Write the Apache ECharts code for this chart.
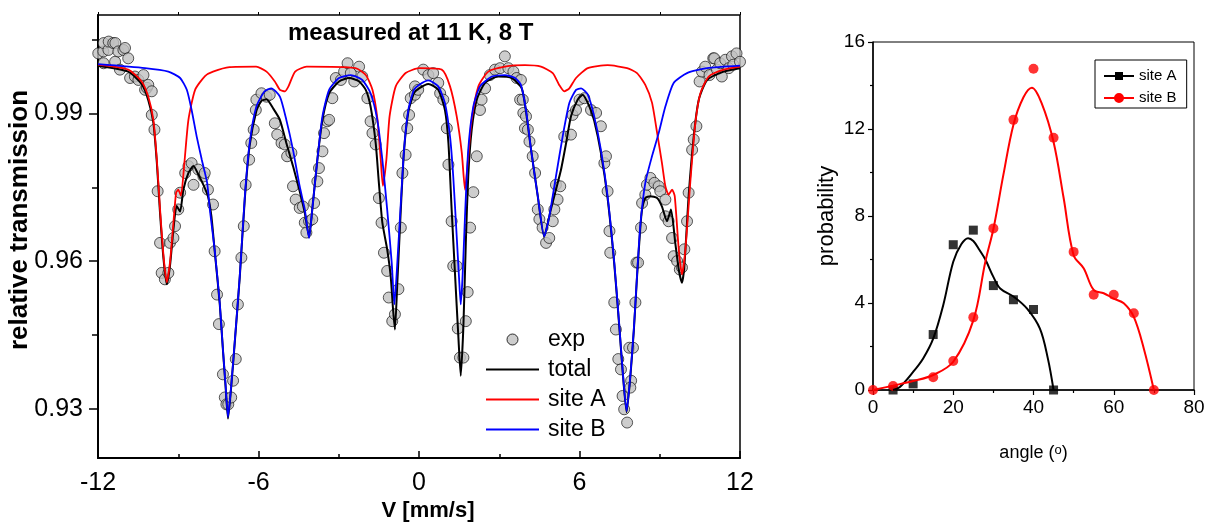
<!DOCTYPE html>
<html><head><meta charset="utf-8">
<script src="https://cdn.jsdelivr.net/npm/echarts@6/dist/echarts.min.js"></script>
<style>html,body{margin:0;padding:0;background:#fff}#c{width:1206px;height:522px}</style>
</head><body><div id="c"></div>
<script>
// ---------- Left panel: Mossbauer spectrum ----------
const expPoints = [
[-11.99,1.0022],[-11.8,1.0026],[-11.79,1.0043],[-11.79,1.0002],[-11.61,1.0029],[-11.6,1.0046],[-11.43,1.0043],[-11.36,1.0005],[-11.35,1.0043],[-11.24,1.0026],[-11.18,0.9989],[-11.05,1.0029],[-10.99,1.0033],[-10.87,1.0012],[-10.8,0.9972],[-10.62,0.9975],[-10.49,0.9968],[-10.3,0.9978],[-10.24,0.9948],[-10.17,0.9952],[-10.12,0.9958],[-9.99,0.9945],[-9.99,0.9897],[-9.89,0.9867],[-9.77,0.9742],[-9.68,0.9637],[-9.62,0.9576],[-9.5,0.9563],[-9.37,0.9576],[-9.31,0.9637],[-9.18,0.9647],[-9.12,0.9671],[-9.0,0.9705],[-8.93,0.9739],[-8.74,0.9779],[-8.62,0.9793],[-8.5,0.9799],[-8.43,0.9755],[-8.25,0.9786],[-8.06,0.9772],
[-8.01,0.9779],[-7.89,0.9745],[-7.7,0.9715],[-7.64,0.962],[-7.55,0.9532],[-7.48,0.9472],[-7.33,0.937],[-7.26,0.9323],[-7.2,0.9309],[-7.13,0.9309],[-7.02,0.9323],[-6.95,0.9357],[-6.85,0.9401],[-6.77,0.9512],[-6.64,0.9607],[-6.55,0.9671],[-6.48,0.9755],[-6.35,0.9806],[-6.27,0.984],[-6.18,0.9867],[-6.1,0.9907],[-6.08,0.9928],[-5.89,0.9941],[-5.7,0.9934],[-5.58,0.9938],[-5.39,0.988],[-5.3,0.9857],[-5.14,0.984],[-5.02,0.9837],[-4.93,0.9813],[-4.77,0.982],[-4.71,0.9752],[-4.61,0.9725],[-4.46,0.9708],[-4.34,0.9711],[-4.27,0.9678],[-4.21,0.9658],[-4.11,0.9681],
[-3.99,0.9685],[-3.92,0.9718],[-3.8,0.9762],[-3.74,0.9789],[-3.61,0.9823],[-3.55,0.986],[-3.43,0.9884],[-3.36,0.9887],[-3.24,0.9931],[-3.11,0.9972],[-2.92,0.9968],[-2.8,0.9985],[-2.67,1.0002],[-2.55,0.9982],[-2.42,0.9965],[-2.24,0.9995],[-2.12,0.9975],[-1.93,0.9931],[-1.81,0.9884],[-1.74,0.986],[-1.62,0.9837],[-1.5,0.9728],[-1.4,0.9678],[-1.31,0.9617],[-1.19,0.958],[-1.13,0.9526],[-1.0,0.9478],[-0.9,0.9492],[-0.77,0.9543],[-0.68,0.9668],[-0.62,0.9779],[-0.5,0.9816],[-0.44,0.987],[-0.37,0.9897],[-0.31,0.9931],[-0.15,0.9955],
[-0.15,0.9938],[-0.03,0.9948],[0.16,0.9989],[0.35,0.9978],[0.53,0.9982],[0.72,0.9962],[0.79,0.9941],[0.91,0.9928],[1.04,0.987],[1.1,0.9796],[1.22,0.9681],[1.28,0.959],[1.41,0.959],[1.45,0.9463],[1.53,0.9404],[1.66,0.9404],[1.75,0.9478],[1.82,0.9537],[1.91,0.9668],[2.03,0.974],[2.16,0.9813],[2.28,0.9907],[2.34,0.9928],[2.47,0.9951],[2.65,0.9978],[2.84,0.9989],[3.03,0.9992],[3.21,1.0016],[3.34,0.9992],[3.53,0.9985],[3.65,0.9972],[3.78,0.9928],[3.9,0.9901],[3.96,0.987],
[3.81,0.9968],[3.88,0.9928],[4.0,0.9894],[4.07,0.9867],[4.13,0.9843],[4.25,0.9813],[4.34,0.9779],[4.44,0.9705],[4.5,0.9685],[4.62,0.9668],[4.75,0.9637],[4.87,0.9647],[5.0,0.9681],[5.06,0.9705],[5.12,0.9755],[5.18,0.9725],[5.28,0.9752],[5.43,0.9853],[5.68,0.9857],[5.74,0.9897],[5.87,0.9907],[6.0,0.9928],[6.18,0.9931],[6.43,0.9907],[6.62,0.9901],[6.8,0.9874],[6.93,0.9799],[6.99,0.9813],[7.05,0.9742],[7.12,0.9661],[7.15,0.9617],[7.3,0.9516],[7.36,0.9461],[7.45,0.9401],[7.55,0.938],[7.61,0.9326],[7.67,0.9299],[7.78,0.9272],[7.86,0.9424],[7.93,0.9357],
[7.9,0.9343],[8.0,0.9424],[8.09,0.9516],[8.13,0.9597],[8.19,0.9597],[8.3,0.9668],[8.34,0.9718],[8.46,0.9735],[8.52,0.9755],[8.65,0.9769],[8.8,0.9759],[8.96,0.9752],[9.02,0.9742],[9.21,0.9725],[9.21,0.9691],[9.33,0.9681],[9.46,0.9647],[9.52,0.961],[9.65,0.96],[9.75,0.9583],[9.83,0.9587],[9.92,0.9624],[10.02,0.9681],[10.08,0.9739],[10.21,0.9826],[10.27,0.9847],[10.37,0.9874],[10.49,0.9965],[10.58,0.9985],[10.7,0.9995],[10.86,0.9978],[11.0,1.0012],[11.04,1.0012],[11.14,0.9989],[11.26,1.0002],[11.32,0.9975],[11.45,1.0009],[11.58,0.9992],[11.7,1.0016],[11.75,0.9999],[11.87,1.0022],[12.0,1.0005]
];
const totalCurve = [
[-12,0.9997],[-10.87,0.9985],[-10.37,0.996],[-10.12,0.9927],[-9.93,0.9881],[-9.8,0.98],[-9.68,0.9697],[-9.55,0.9604],[-9.43,0.9553],[-9.31,0.959],[-9.18,0.9665],[-9.06,0.9712],[-8.93,0.9701],[-8.81,0.9745],[-8.62,0.9779],[-8.43,0.9793],[-8.25,0.9776],[-8.06,0.9755],[-7.89,0.9732],[-7.76,0.9691],[-7.64,0.9622],[-7.45,0.9514],[-7.33,0.942],[-7.23,0.9345],[-7.14,0.928],[-7.02,0.9345],[-6.89,0.9433],[-6.7,0.9568],[-6.51,0.9728],[-6.33,0.9835],[-6.08,0.9905],[-5.9,0.9925],[-5.7,0.9929],[-5.45,0.991],[-5.2,0.9887],[-4.96,0.984],[-4.71,0.9793],[-4.46,0.9742],[-4.27,0.9698],[-4.11,0.9649],[-3.99,0.9705],[-3.8,0.9806],[-3.61,0.9887],[-3.36,0.9941],[-2.99,0.9965],[-2.61,0.9972],[-2.24,0.9965],[-1.99,0.9948],[-1.81,0.9914],[-1.62,0.984],[-1.5,0.9759],[-1.37,0.9678],[-1.19,0.9624],[-1.06,0.957],[-0.97,0.9502],[-0.9,0.9461],[-0.81,0.9556],[-0.68,0.9705],[-0.56,0.9824],[-0.4,0.9903],[-0.19,0.9941],[0,0.9951],[0.35,0.996],[0.72,0.9948],[0.97,0.9907],[1.1,0.984],[1.22,0.9705],[1.35,0.957],[1.47,0.9448],[1.56,0.9367],[1.66,0.9468],[1.75,0.9637],[1.84,0.9772],[1.97,0.9867],[2.16,0.9928],[2.47,0.9962],[2.96,0.9975],[3.47,0.9972],[3.84,0.9951],[4.0,0.9904],[4.19,0.9826],[4.44,0.9732],[4.68,0.965],[4.93,0.9705],[5.12,0.9745],[5.31,0.9786],[5.5,0.984],[5.68,0.9894],[5.93,0.9928],[6.12,0.9938],[6.37,0.9914],[6.55,0.9885],[6.8,0.982],[7.05,0.9728],[7.3,0.9594],[7.49,0.9465],[7.61,0.9378],[7.76,0.9293],[7.9,0.9365],[8.03,0.9458],[8.15,0.9568],[8.27,0.9665],[8.34,0.9705],[8.46,0.9728],[8.65,0.9732],[8.9,0.9728],[9.08,0.9711],[9.27,0.9681],[9.42,0.9705],[9.58,0.9637],[9.71,0.9583],[9.83,0.9556],[9.92,0.959],[10.08,0.9732],[10.27,0.9853],[10.46,0.9928],[10.77,0.9968],[11.39,0.9985],[12,0.9992]
];
const siteACurve = [
[-12,0.9999],[-10.87,0.9989],[-10.37,0.9965],[-10.12,0.9934],[-9.93,0.9887],[-9.8,0.9806],[-9.68,0.9705],[-9.55,0.961],[-9.43,0.9557],[-9.31,0.9597],[-9.18,0.9678],[-9.08,0.9739],[-9.0,0.9745],[-8.9,0.9733],[-8.77,0.98],[-8.62,0.9887],[-8.37,0.9948],[-8.0,0.9976],[-7.7,0.9985],[-7.08,0.9994],[-6.09,0.9995],[-5.7,0.9985],[-5.39,0.9965],[-5.2,0.9948],[-5.01,0.9945],[-4.88,0.9955],[-4.63,0.9985],[-4.2,0.9995],[-2.37,0.9992],[-1.99,0.9978],[-1.74,0.9948],[-1.55,0.9887],[-1.43,0.9806],[-1.35,0.9753],[-1.22,0.9806],[-1.1,0.9894],[-0.87,0.9955],[-0.5,0.9982],[0,0.9992],[0.85,0.9989],[1.16,0.9955],[1.41,0.9894],[1.6,0.982],[1.72,0.9745],[1.82,0.98],[1.97,0.9887],[2.22,0.9955],[2.59,0.9985],[3.21,0.9995],[3.96,0.9998],[4.56,0.9995],[5.0,0.9982],[5.24,0.9958],[5.43,0.9945],[5.62,0.9951],[5.87,0.9972],[6.31,0.9992],[7.05,0.9998],[7.78,0.9992],[8.15,0.9982],[8.46,0.9958],[8.71,0.9922],[8.9,0.9861],[9.08,0.98],[9.21,0.9752],[9.33,0.9735],[9.46,0.9745],[9.56,0.9732],[9.71,0.9624],[9.83,0.9573],[9.96,0.9624],[10.14,0.9759],[10.33,0.988],[10.52,0.9941],[10.83,0.9975],[11.39,0.9989],[12,0.9995]
];
const siteBCurve = [
[-12,1.0],[-10.24,0.9992],[-9.37,0.9985],[-8.93,0.9972],[-8.68,0.9948],[-8.5,0.9907],[-8.31,0.9853],[-8.12,0.9806],[-7.92,0.9759],[-7.82,0.9705],[-7.64,0.9624],[-7.45,0.9516],[-7.33,0.9421],[-7.23,0.9347],[-7.14,0.9283],[-7.02,0.9347],[-6.89,0.9435],[-6.7,0.957],[-6.51,0.9732],[-6.33,0.984],[-6.08,0.9914],[-5.77,0.9945],[-5.52,0.9951],[-5.2,0.9934],[-4.96,0.9887],[-4.71,0.9826],[-4.46,0.9752],[-4.27,0.9705],[-4.11,0.9647],[-3.99,0.9705],[-3.8,0.9806],[-3.61,0.9894],[-3.36,0.9948],[-2.99,0.9972],[-2.55,0.9978],[-2.12,0.9968],[-1.81,0.9941],[-1.56,0.9887],[-1.37,0.9806],[-1.19,0.9705],[-1.02,0.9597],[-0.92,0.9512],[-0.81,0.9597],[-0.68,0.9718],[-0.56,0.9826],[-0.4,0.9907],[-0.19,0.9948],[0,0.9958],[0.35,0.9967],[0.72,0.9955],[0.97,0.9921],[1.16,0.9853],[1.28,0.9772],[1.41,0.965],[1.5,0.9563],[1.56,0.9512],[1.63,0.957],[1.72,0.9691],[1.84,0.9826],[2.03,0.9914],[2.28,0.9955],[2.72,0.9975],[3.21,0.9978],[3.59,0.9972],[3.81,0.9958],[4.0,0.9907],[4.19,0.9826],[4.44,0.9732],[4.68,0.965],[4.87,0.9691],[5.12,0.9772],[5.37,0.9853],[5.62,0.9921],[5.87,0.9948],[6.06,0.9951],[6.31,0.9938],[6.55,0.9894],[6.8,0.9826],[7.05,0.9732],[7.3,0.9597],[7.49,0.9468],[7.61,0.938],[7.76,0.9295],[7.9,0.9367],[8.03,0.9461],[8.15,0.957],[8.27,0.9671],[8.46,0.9759],[8.71,0.9813],[8.96,0.986],[9.21,0.9914],[9.52,0.9962],[10.02,0.9982],[10.77,0.9992],[12,0.9997]
];
const transLabelValues = [0.93, 0.96, 0.99];
const transMinorValues = [0.945, 0.975, 1.005];

// ---------- Right panel: angle distribution ----------
const siteAPoints = [[5,0],[10,0.28],[15,2.55],[20,6.68],[25,7.35],[30,4.8],[35,4.15],[40,3.7],[45,0]];
const siteBPoints = [[0,0],[5,0.18],[15,0.59],[20,1.33],[25,3.34],[30,7.43],[35,12.42],[40,14.77],[45,11.6],[50,6.35],[55,4.38],[60,4.38],[65,3.53],[70,0]];
const siteAFit = [[5,0],[6.7,0.14],[10,0.83],[12.5,1.45],[15,2.36],[17.5,3.9],[20,5.9],[22,6.7],[23.7,6.98],[25,6.85],[26.5,6.45],[28,6.0],[30,5.2],[31.7,4.67],[35,4.3],[38.4,3.74],[41.6,2.82],[43.6,1.43],[45,0]];
const siteBFit = [[0,0],[5,0.2],[10,0.41],[15,0.69],[20,1.3],[25,3.2],[28,5.9],[30,7.4],[32.5,9.9],[35,12.2],[37.5,13.46],[39.6,13.9],[42,13.2],[45,11.4],[47.5,8.84],[50,6.2],[52.5,5.6],[55,4.6],[57.5,4.45],[60,4.2],[62.5,3.99],[65,3.36],[67.5,1.9],[70,0]];

const FONT = "'Liberation Sans', Arial, sans-serif";
const chart = echarts.init(document.getElementById('c'), null, {renderer: 'canvas'});
const lineIconL = 'path://M0,0H53V2H0Z';
const iconSq = 'path://M0,4H30V6H0Z M11,1H19V9H11Z';
const iconCi = 'path://M0,4H30V6H0Z M20,5A5,5,0,1,1,10,5A5,5,0,1,1,20,5Z';

chart.setOption({
  animation: false,
  backgroundColor: '#fff',
  textStyle: {fontFamily: FONT, color: '#000'},
  title: {text: 'measured at 11 K, 8 T', left: 288, top: 21, padding: 0,
    textStyle: {fontSize: 24, fontWeight: 'bold', color: '#000', fontFamily: FONT}},
  grid: [
    {left: 98, top: 15, width: 642, height: 443, show: true, borderColor: '#000', borderWidth: 1.5,
     containLabel: false, outerBoundsMode: 'none'},
    {left: 873, top: 42, width: 321, height: 348, show: true, borderColor: '#000', borderWidth: 1,
     containLabel: false, outerBoundsMode: 'none'}
  ],
  legend: [
    {orient: 'vertical', left: 486, top: 328, padding: 0, itemWidth: 53, itemHeight: 11, itemGap: 7,
     selectedMode: false,
     textStyle: {fontSize: 23, lineHeight: 22, color: '#000', fontFamily: FONT, padding: [0,0,0,4]},
     data: [
       {name: 'exp', icon: 'circle', itemStyle: {color: '#c0c0c0', borderColor: '#000', borderWidth: 1}},
       {name: 'total', icon: lineIconL, itemStyle: {color: '#000', borderWidth: 0}},
       {name: 'site A', icon: lineIconL, itemStyle: {color: '#ff0000', borderWidth: 0}},
       {name: 'site B', icon: lineIconL, itemStyle: {color: '#0000ff', borderWidth: 0}}
     ]},
    {orient: 'vertical', left: 1095, top: 60, padding: [8,6,2,9], itemWidth: 30, itemHeight: 10, itemGap: 6,
     selectedMode: false, borderColor: '#000', borderWidth: 1,
     textStyle: {fontSize: 15, lineHeight: 16, color: '#000', fontFamily: FONT},
     data: [
       {name: 'site A ', icon: iconSq, itemStyle: {color: '#000', borderWidth: 0}},
       {name: 'site B ', icon: iconCi, itemStyle: {color: '#ff0000', borderWidth: 0}}
     ]}
  ],
  xAxis: [
    {gridIndex: 0, type: 'value', min: -12, max: 12, interval: 6, position: 'bottom',
     axisLine: {onZero: false, lineStyle: {color: '#000', width: 2}},
     axisTick: {inside: true, length: 7, lineStyle: {color: '#000', width: 1.5}},
     minorTick: {show: true, splitNumber: 2, length: 4, lineStyle: {color: '#000', width: 1.5}},
     axisLabel: {fontSize: 25, color: '#000', margin: 13, fontFamily: FONT},
     splitLine: {show: false},
     name: 'V [mm/s]', nameLocation: 'middle', nameGap: 42, nameMoveOverlap: false,
     nameTextStyle: {fontSize: 22, fontWeight: 'bold', color: '#000', fontFamily: FONT, padding: [0,0,0,18]}},
    {gridIndex: 0, type: 'value', min: -12, max: 12, interval: 3, position: 'top',
     axisLine: {show: false, onZero: false}, axisTick: {length: 3, lineStyle: {color: '#000', width: 1}},
     axisLabel: {show: false}, splitLine: {show: false}},
    {gridIndex: 1, type: 'value', min: 0, max: 80, interval: 20, position: 'bottom',
     axisLine: {onZero: false, lineStyle: {color: '#000', width: 1.5}},
     axisTick: {length: 5, lineStyle: {color: '#000', width: 1.2}},
     minorTick: {show: true, splitNumber: 2, length: 3, lineStyle: {color: '#000', width: 1.2}},
     axisLabel: {fontSize: 19, color: '#000', margin: 8, fontFamily: FONT},
     splitLine: {show: false},
     name: 'angle ({s|o})', nameLocation: 'middle', nameGap: 54, nameMoveOverlap: false,
     nameTextStyle: {fontSize: 18, color: '#000', fontFamily: FONT,
       rich: {s: {fontSize: 13, verticalAlign: 'top', lineHeight: 18, padding: [0,0,6,0], fontFamily: FONT}}}}
  ],
  yAxis: [
    {gridIndex: 0, type: 'value', min: 0.92, max: 1.01, position: 'left',
     axisLine: {show: true, onZero: false, lineStyle: {color: '#000', width: 2}},
     axisTick: {show: true, length: 9, customValues: transLabelValues, lineStyle: {color: '#000', width: 1.5}},
     axisLabel: {customValues: transLabelValues, fontSize: 25, color: '#000', margin: 15, fontFamily: FONT,
       formatter: v => v.toFixed(2)},
     splitLine: {show: false},
     name: 'relative transmission', nameLocation: 'middle', nameRotate: 90, nameGap: 65, nameMoveOverlap: false,
     nameTextStyle: {fontSize: 26, fontWeight: 'bold', color: '#000', fontFamily: FONT, padding: [0,0,0,33]}},
    {gridIndex: 0, type: 'value', min: 0.92, max: 1.01, position: 'left',
     axisLine: {show: false, onZero: false},
     axisTick: {show: true, length: 6, customValues: transMinorValues, lineStyle: {color: '#000', width: 1.5}},
     axisLabel: {show: false}, splitLine: {show: false}},
    {gridIndex: 1, type: 'value', min: 0, max: 16, interval: 4, position: 'left',
     axisLine: {show: true, onZero: false, lineStyle: {color: '#000', width: 1.5}},
     axisTick: {show: true, length: 5, lineStyle: {color: '#000', width: 1.2}},
     minorTick: {show: true, splitNumber: 2, length: 3, lineStyle: {color: '#000', width: 1.2}},
     axisLabel: {fontSize: 19, color: '#000', margin: 8, fontFamily: FONT},
     splitLine: {show: false},
     name: 'probability', nameLocation: 'middle', nameRotate: 90, nameGap: 35,
     nameTextStyle: {fontSize: 22, color: '#000', fontFamily: FONT}}
  ],
  series: [
    {name: 'exp', type: 'scatter', xAxisIndex: 0, yAxisIndex: 0, data: expPoints, symbol: 'circle', symbolSize: 11,
     itemStyle: {color: '#c0c0c0', borderColor: '#000', borderWidth: 0.8}},
    {name: 'total', type: 'line', xAxisIndex: 0, yAxisIndex: 0, data: totalCurve, symbol: 'none', smooth: 0.2,
     color: '#000', lineStyle: {color: '#000', width: 2}},
    {name: 'site A', type: 'line', xAxisIndex: 0, yAxisIndex: 0, data: siteACurve, symbol: 'none', smooth: 0.2,
     color: '#ff0000', lineStyle: {color: '#ff0000', width: 1.8}},
    {name: 'site B', type: 'line', xAxisIndex: 0, yAxisIndex: 0, data: siteBCurve, symbol: 'none', smooth: 0.2,
     color: '#0000ff', lineStyle: {color: '#0000ff', width: 1.8}},
    {name: 'site A ', type: 'line', xAxisIndex: 2, yAxisIndex: 2, data: siteAFit, symbol: 'none', smooth: 0.35,
     color: '#000', lineStyle: {color: '#000', width: 2}},
    {name: 'site A ', type: 'scatter', xAxisIndex: 2, yAxisIndex: 2, data: siteAPoints, symbol: 'rect', symbolSize: 9,
     itemStyle: {color: '#000'}},
    {name: 'site B ', type: 'line', xAxisIndex: 2, yAxisIndex: 2, data: siteBFit, symbol: 'none', smooth: 0.35,
     color: '#ff0000', lineStyle: {color: '#ff0000', width: 2}},
    {name: 'site B ', type: 'scatter', xAxisIndex: 2, yAxisIndex: 2, data: siteBPoints, symbol: 'circle', symbolSize: 10,
     itemStyle: {color: '#ff0000'}}
  ]
});
</script>
</body></html>
